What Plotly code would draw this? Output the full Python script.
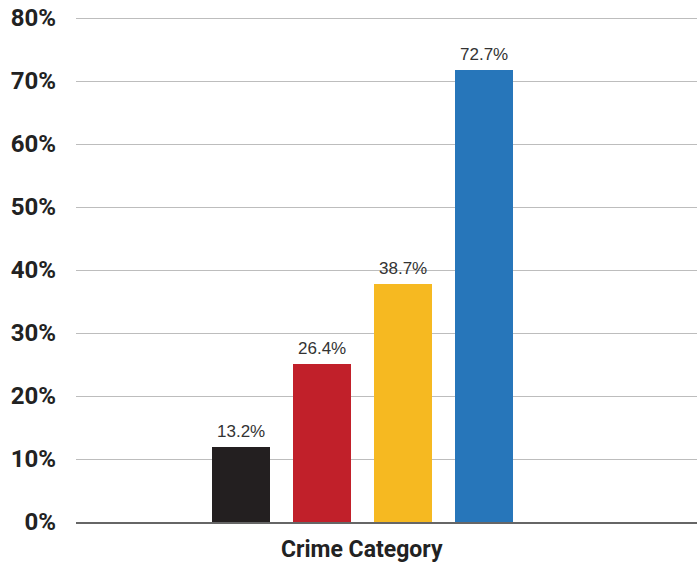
import plotly.graph_objects as go

categories = ["Category 1", "Category 2", "Category 3", "Category 4"]
bar_values = [11.9, 25.1, 37.7, 71.8]
value_labels = ["13.2%", "26.4%", "38.7%", "72.7%"]
bar_colors = ["#231F20", "#C1202A", "#F6B921", "#2776BA"]
y_ticks = [0, 10, 20, 30, 40, 50, 60, 70, 80]
y_tick_labels = [f"{v}%" for v in y_ticks]
x_title = "Crime Category"

BOLD = "Roboto, Liberation Sans, Arial, sans-serif"

fig = go.Figure()
fig.add_trace(go.Bar(
    x=categories,
    y=bar_values,
    marker=dict(color=bar_colors, line=dict(width=0)),
    width=0.716,
    hoverinfo="skip",
))

for cat, val, lab in zip(categories, bar_values, value_labels):
    fig.add_annotation(
        x=cat, y=val, xref="x", yref="y",
        text=lab, showarrow=False,
        yanchor="bottom", xanchor="center", yshift=4,
        font=dict(family="Liberation Sans, Arial, sans-serif", size=17, color="#333333"),
    )

fig.add_annotation(
    x=1.5, xref="x", y=-0.054, yref="paper",
    text=f"<b>{x_title}</b>", showarrow=False,
    font=dict(family=BOLD, size=23, color="#222222"),
    yanchor="middle", xanchor="center",
)

fig.update_layout(
    width=697, height=563,
    margin=dict(l=76, r=0, t=17, b=41, autoexpand=False),
    plot_bgcolor="white", paper_bgcolor="white",
    showlegend=False,
    bargap=0,
    xaxis=dict(
        type="category",
        range=[-2.037, 5.63],
        showticklabels=False, showgrid=False, ticks="",
        showline=True, linecolor="#666666", linewidth=2,
        zeroline=False, fixedrange=True, automargin=False,
    ),
    yaxis=dict(
        range=[0, 80.16],
        tickvals=y_ticks, ticktext=[f"<b>{t}</b>" for t in y_tick_labels],
        tickfont=dict(family=BOLD, size=24, color="#222222"),
        showgrid=True, gridcolor="#BDBDBD", gridwidth=1,
        zeroline=False, showline=False, ticks="",
        ticklabelstandoff=19, ticklabeloverflow="allow",
        fixedrange=True, automargin=False,
    ),
)

fig.write_html(
    "out.html",
    config={"displayModeBar": False, "staticPlot": True},
    post_script="document.body.style.margin='0';document.body.style.padding='0';",
)
